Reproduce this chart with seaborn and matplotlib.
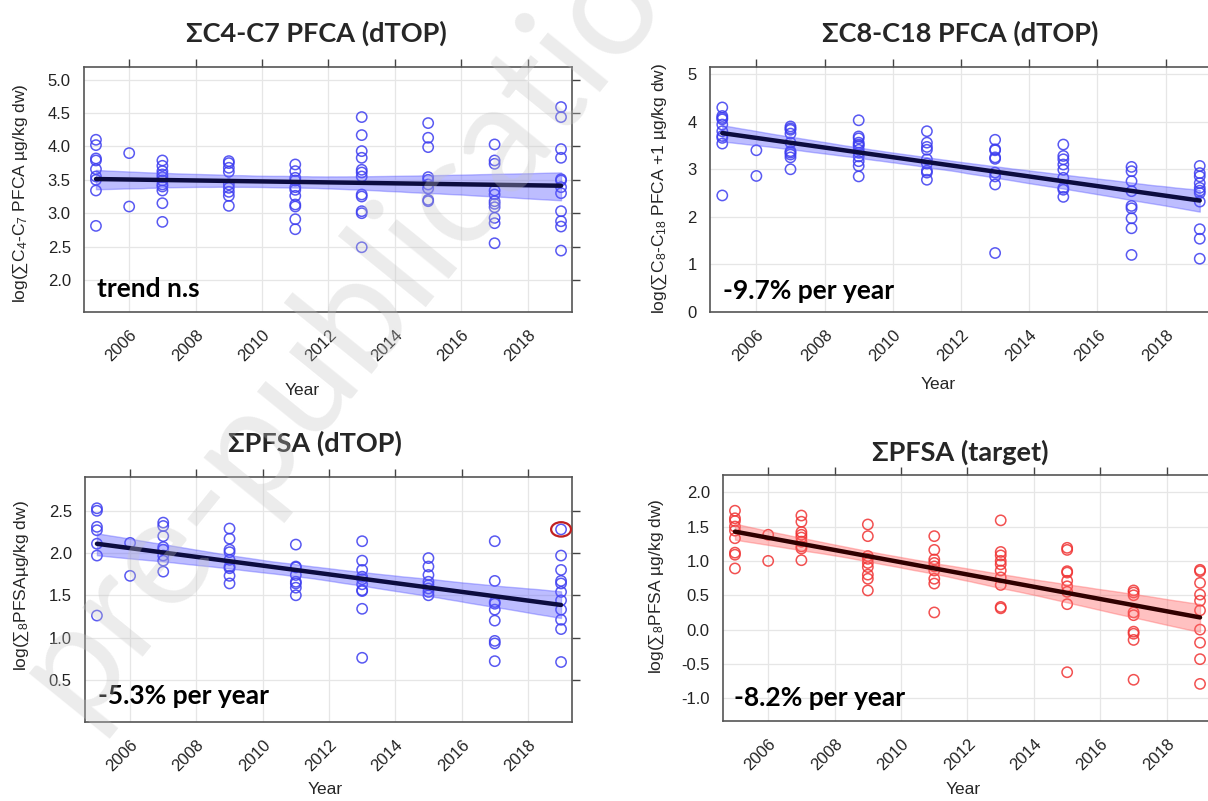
import numpy as np
import pandas as pd
import matplotlib
matplotlib.use("Agg")
import matplotlib.pyplot as plt
import seaborn as sns
from matplotlib.patches import Ellipse
from matplotlib.collections import PolyCollection

# sampling years (same for all four panels)
years = [2005, 2006, 2007, 2009, 2011, 2013, 2015, 2017, 2019]

# log(sum C4-C7 PFCA), dTOP
c4c7_dtop = [
    [4.10, 4.02, 3.82, 3.79, 3.66, 3.55, 3.50, 3.34, 2.81],
    [3.90, 3.10],
    [3.79, 3.71, 3.63, 3.58, 3.54, 3.49, 3.43, 3.40, 3.34, 3.15, 2.87],
    [3.78, 3.75, 3.68, 3.62, 3.43, 3.38, 3.32, 3.26, 3.11],
    [3.73, 3.63, 3.53, 3.49, 3.39, 3.35, 3.26, 3.13, 3.10, 2.91, 2.76],
    [4.44, 4.17, 3.93, 3.83, 3.65, 3.61, 3.55, 3.28, 3.25, 3.03, 3.00, 2.49],
    [4.35, 4.13, 3.99, 3.54, 3.50, 3.43, 3.37, 3.20, 3.18],
    [4.03, 3.79, 3.74, 3.34, 3.28, 3.18, 3.14, 3.09, 2.93, 2.85, 2.55],
    [4.59, 4.44, 3.96, 3.83, 3.51, 3.49, 3.39, 3.30, 3.03, 2.88, 2.80, 2.44],
]

# log(sum C8-C18 PFCA + 1), dTOP
c8c18_dtop = [
    [4.30, 4.12, 4.08, 4.05, 3.94, 3.80, 3.70, 3.66, 3.54, 2.45],
    [3.40, 2.86],
    [3.90, 3.86, 3.83, 3.75, 3.56, 3.38, 3.35, 3.31, 3.25, 3.00],
    [4.03, 3.69, 3.65, 3.56, 3.52, 3.49, 3.41, 3.35, 3.27, 3.17, 3.07, 2.85],
    [3.80, 3.56, 3.47, 3.41, 3.21, 3.12, 2.97, 2.93, 2.78],
    [3.62, 3.42, 3.40, 3.25, 3.22, 2.93, 2.85, 2.68, 1.24],
    [3.52, 3.28, 3.21, 3.10, 2.99, 2.82, 2.61, 2.57, 2.42],
    [3.05, 2.96, 2.75, 2.54, 2.23, 2.18, 1.97, 1.76, 1.20],
    [3.07, 2.92, 2.85, 2.71, 2.61, 2.55, 2.50, 2.32, 1.74, 1.54, 1.12],
]

# log(sum8 PFSA), dTOP
pfsa_dtop = [
    [2.53, 2.50, 2.31, 2.27, 2.11, 1.97, 1.26],
    [2.12, 1.73],
    [2.36, 2.32, 2.20, 2.07, 2.04, 1.97, 1.91, 1.78],
    [2.29, 2.17, 2.04, 2.01, 1.92, 1.84, 1.82, 1.73, 1.64],
    [2.10, 1.84, 1.83, 1.74, 1.66, 1.64, 1.59, 1.50],
    [2.14, 1.91, 1.80, 1.72, 1.69, 1.63, 1.56, 1.55, 1.34, 0.76],
    [1.94, 1.84, 1.74, 1.66, 1.62, 1.58, 1.54, 1.50],
    [2.14, 1.67, 1.42, 1.40, 1.33, 1.20, 0.96, 0.93, 0.72],
    [2.28, 1.97, 1.80, 1.67, 1.64, 1.54, 1.44, 1.33, 1.21, 1.10, 0.71],
]

# log(sum8 PFSA), target analysis
pfsa_target = [
    [1.73, 1.62, 1.58, 1.50, 1.44, 1.33, 1.12, 1.09, 0.89],
    [1.38, 1.00],
    [1.66, 1.57, 1.42, 1.38, 1.34, 1.28, 1.21, 1.18, 1.01],
    [1.53, 1.36, 1.07, 1.03, 0.97, 0.91, 0.80, 0.74, 0.57],
    [1.36, 1.16, 1.02, 0.97, 0.92, 0.86, 0.74, 0.67, 0.25],
    [1.59, 1.13, 1.08, 1.00, 0.95, 0.86, 0.76, 0.65, 0.33, 0.31],
    [1.19, 1.16, 0.85, 0.83, 0.71, 0.63, 0.55, 0.37, -0.62],
    [0.57, 0.54, 0.50, 0.25, 0.21, -0.03, -0.06, -0.15, -0.73],
    [0.87, 0.85, 0.68, 0.51, 0.42, 0.28, 0.00, -0.19, -0.43, -0.79],
]

titles = ["ΣC4-C7 PFCA (dTOP)", "ΣC8-C18 PFCA (dTOP)", "ΣPFSA (dTOP)", "ΣPFSA (target)"]
ylabels = [
    r"log($\sum$C$_4$-C$_7$ PFCA µg/kg dw)",
    r"log($\sum$C$_8$-C$_{18}$ PFCA +1 µg/kg dw)",
    r"log($\sum{}_8$PFSAµg/kg dw)",
    r"log($\sum{}_8$PFSA µg/kg dw)",
]
trend_notes = ["trend n.s", "-9.7% per year", "-5.3% per year", "-8.2% per year"]
ytick_sets = [
    np.arange(2.0, 5.01, 0.5),
    np.arange(0, 6, 1),
    np.arange(0.5, 2.51, 0.5),
    np.arange(-1.0, 2.01, 0.5),
]
ylims = [(1.52, 5.19), (0.0, 5.15), (0.0, 2.9), (-1.33, 2.25)]
xticks = np.arange(2006, 2019, 2)


def to_frame(values):
    rows = []
    for yr, vals in zip(years, values):
        for v in vals:
            rows.append({"year": yr, "value": v})
    return pd.DataFrame(rows)


sns.set_style("white")
plt.rcParams["font.family"] = ["Liberation Sans", "DejaVu Sans"]
plt.rcParams["mathtext.fontset"] = "custom"
plt.rcParams["mathtext.rm"] = "Liberation Sans"
plt.rcParams["mathtext.it"] = "Liberation Sans:italic"

W, H = 1208, 801
fig = plt.figure(figsize=(W / 100, H / 100), dpi=100)


def px_axes(left, top, right, bottom):
    return fig.add_axes([left / W, 1 - bottom / H, (right - left) / W, (bottom - top) / H])


# box positions in pixels: left, top, right, bottom
boxes = [(84, 67, 572, 312), (710, 67, 1211, 312), (85, 477, 572, 722), (723, 475, 1211, 721)]
ylabel_px = [(21, 193), (660, 188), (22, 586), (657, 586)]
xlabel_px = [(302, 390), (938, 384), (325, 790), (963, 790)]
title_px = [(316, 33), (960, 33), (315, 443), (960, 452)]
note_pos = [(0.027, 0.094), (0.025, 0.086), (0.027, 0.106), (0.022, 0.095)]

datasets = [c4c7_dtop, c8c18_dtop, pfsa_dtop, pfsa_target]
point_colors = ["#3c3cf0", "#3c3cf0", "#3c3cf0", "#f03232"]
band_colors = ["#5a5aff", "#5a5aff", "#5a5aff", "#ff6464"]
line_colors = ["#0c0c40", "#0c0c40", "#0c0c40", "#300000"]

for i in range(4):
    left, top, right, bottom = boxes[i]
    ax = px_axes(left, top, right, bottom)
    df = to_frame(datasets[i])

    sns.regplot(
        data=df, x="year", y="value", ax=ax, ci=95, seed=0,
        scatter_kws=dict(facecolors="none", edgecolors=point_colors[i], s=55, linewidths=1.1, alpha=0.85),
        line_kws=dict(color=line_colors[i], lw=3.2, zorder=4),
    )
    for coll in ax.collections:
        if isinstance(coll, PolyCollection):
            coll.set_facecolor(band_colors[i])
            coll.set_edgecolor(band_colors[i])
            coll.set_alpha(0.4)
            coll.set_linewidth(1.0)

    ax.set_xlim(2004.64, 2019.33)
    ax.set_ylim(*ylims[i])
    ax.set_xticks(xticks)
    ax.set_yticks(ytick_sets[i])
    if i == 1:
        ax.set_yticklabels([f"{t:.0f}" for t in ytick_sets[i]])
    else:
        ax.set_yticklabels([f"{t:.1f}" for t in ytick_sets[i]])
    ax.set_xticklabels([str(t) for t in xticks], rotation=45, ha="right", rotation_mode="anchor")
    ax.tick_params(axis="both", which="major", direction="out", length=6, width=1,
                   color="#444444", labelsize=12, labelcolor="#222222",
                   top=True, right=True, labeltop=False, labelright=False)
    ax.tick_params(axis="x", pad=5)
    ax.grid(True, color="#e6e6e6", lw=0.9)
    ax.set_axisbelow(True)
    for sp in ax.spines.values():
        sp.set_color("#555555")
        sp.set_linewidth(1.2)

    ax.set_xlabel("Year", fontsize=12.5)
    ax.set_ylabel(ylabels[i], fontsize=12.5)
    xl, yl = xlabel_px[i]
    ax.xaxis.set_label_coords((xl - left) / (right - left), (bottom - yl) / (bottom - top), transform=ax.transAxes)
    ax.xaxis.label.set_va("center")
    xl, yl = ylabel_px[i]
    ax.yaxis.set_label_coords((xl - left) / (right - left), (bottom - yl) / (bottom - top), transform=ax.transAxes)
    ax.yaxis.label.set_va("center")

    nx, ny = note_pos[i]
    ax.text(nx, ny, trend_notes[i], transform=ax.transAxes, fontsize=19, fontweight="bold",
            family=["Lato", "Open Sans", "DejaVu Sans"], ha="left", va="center", color="black")

    tx, ty = title_px[i]
    fig.text(tx / W, 1 - ty / H, titles[i], fontsize=19.5, fontweight="bold",
             family=["Lato", "Open Sans", "DejaVu Sans"], ha="center", va="center")

    # highlighted sample in the PFSA (dTOP) panel: the highest 2019 value
    if i == 2:
        hx = years[-1]
        hy = max(pfsa_dtop[-1])
        ax.add_patch(Ellipse((hx, hy), width=0.6, height=0.17, fill=False,
                             edgecolor="#c02020", lw=1.6, zorder=6))

# faint "pre-publication" watermark across the left column
fig.text(45 / W, 1 - 695 / H, "pre-publication", rotation=51, rotation_mode="anchor",
         fontsize=110, family=["Lato", "Open Sans", "DejaVu Sans"],
         color="#c4c4c4", alpha=0.32, ha="left", va="center", zorder=10)

fig.savefig("out.png", dpi=100)
